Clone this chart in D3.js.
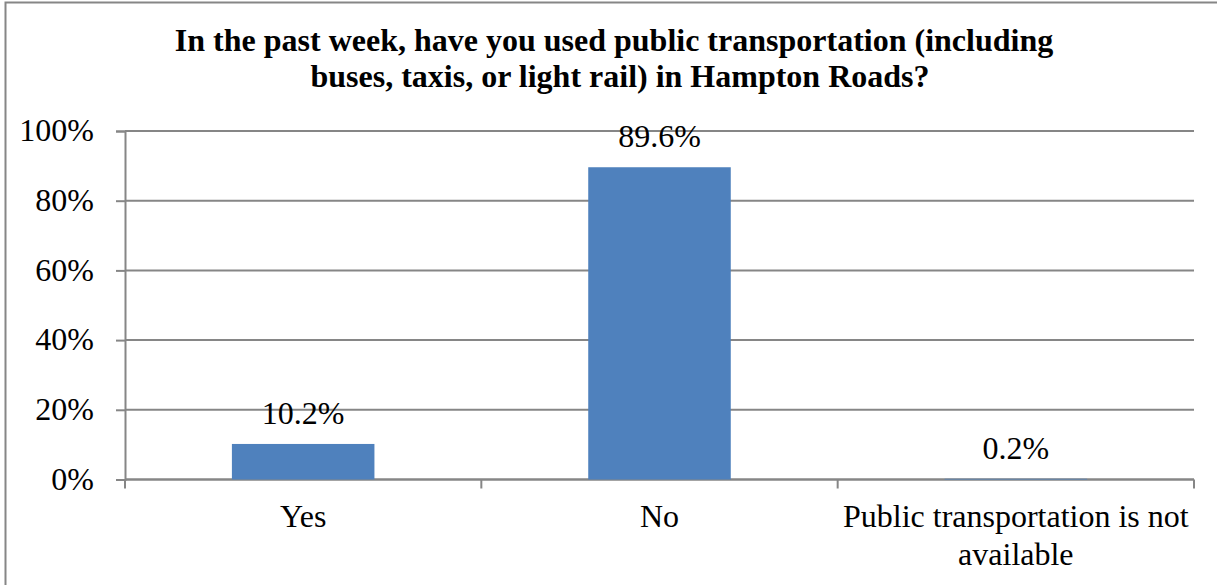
<!DOCTYPE html>
<html>
<head>
<meta charset="utf-8">
<script src="https://cdn.jsdelivr.net/npm/d3@7"></script>
<style>
  html, body { margin: 0; padding: 0; background: #fff; }
  svg { display: block; }
</style>
</head>
<body>
<svg id="chart" width="1217" height="585"></svg>
<script>
// Survey responses
const categories = ["Yes", "No", "Public transportation is not available"];
const values = [10.2, 89.6, 0.2];
const yTicks = [0, 20, 40, 60, 80, 100];
const titleLines = [
  "In the past week, have you used public transportation (including",
  "buses, taxis, or light rail) in Hampton Roads?"
];
const categoryLines = [["Yes"], ["No"], ["Public transportation is not", "available"]];

const FONT = "'Liberation Serif', 'Times New Roman', serif";
const FS = 32;
const GRID = "#868686";
const W = 1217, H = 585;
const margin = { left: 125, right: 23, top: 131, bottom: 105.5 };
const svg = d3.select("#chart").style("font-family", FONT);

// Chart frame (right and bottom edges run past the view)
svg.append("rect")
  .attr("x", 5.5).attr("y", 2.5)
  .attr("width", W + 20).attr("height", H + 20)
  .attr("fill", "#fff")
  .attr("stroke", GRID).attr("stroke-width", 2);

const x = d3.scaleBand()
  .domain(categories)
  .range([margin.left, W - margin.right])
  .paddingInner(0.6).paddingOuter(0.3);

const y = d3.scaleLinear()
  .domain([0, 100])
  .range([H - margin.bottom, margin.top]);

// Horizontal gridlines
svg.append("g")
  .selectAll("line")
  .data(yTicks)
  .join("line")
  .attr("x1", margin.left).attr("x2", W - margin.right)
  .attr("y1", d => y(d)).attr("y2", d => y(d))
  .attr("stroke", GRID).attr("stroke-width", 2);

// Y axis
const yAxis = svg.append("g")
  .attr("transform", `translate(${margin.left},0)`)
  .call(d3.axisLeft(y).tickValues(yTicks).tickFormat(d => d + "%").tickSize(9).tickPadding(22));
yAxis.attr("font-family", null).attr("font-size", null);
yAxis.select(".domain").attr("stroke", GRID).attr("stroke-width", 2);
yAxis.selectAll(".tick line").attr("stroke", GRID).attr("stroke-width", 2);
yAxis.selectAll(".tick text")
  .style("font-family", FONT)
  .attr("font-size", FS)
  .attr("fill", "#000")
  .attr("dy", "0.3em");

// X axis baseline and category separator ticks
const bounds = d3.range(categories.length + 1)
  .map(i => margin.left + i * (W - margin.right - margin.left) / categories.length);
svg.append("line")
  .attr("x1", margin.left).attr("x2", W - margin.right)
  .attr("y1", y(0)).attr("y2", y(0))
  .attr("stroke", GRID).attr("stroke-width", 2);
svg.append("g")
  .selectAll("line")
  .data(bounds)
  .join("line")
  .attr("x1", d => d).attr("x2", d => d)
  .attr("y1", y(0)).attr("y2", y(0) + 9)
  .attr("stroke", GRID).attr("stroke-width", 2);

// Bars
svg.append("g")
  .selectAll("rect")
  .data(values)
  .join("rect")
  .attr("x", (d, i) => x(categories[i]))
  .attr("width", x.bandwidth())
  .attr("y", d => y(d))
  .attr("height", d => y(0) - y(d))
  .attr("fill", "#4F81BD");

// Value labels
svg.append("g")
  .selectAll("text")
  .data(values)
  .join("text")
  .style("font-family", FONT)
  .attr("x", (d, i) => x(categories[i]) + x.bandwidth() / 2)
  .attr("y", d => y(d) - 20)
  .attr("text-anchor", "middle")
  .attr("font-size", FS)
  .text(d => d.toFixed(1) + "%");

// Category labels, wrapped to fit each band
const catG = svg.append("g");
categories.forEach((c, i) => {
  const cx = x(c) + x.bandwidth() / 2;
  categoryLines[i].forEach((ln, j) => {
    catG.append("text")
      .style("font-family", FONT)
      .attr("x", cx)
      .attr("y", 527 + j * 38)
      .attr("text-anchor", "middle")
      .attr("font-size", FS)
      .text(ln);
  });
});

// Title
const titleX = [614, 620];
svg.append("g")
  .selectAll("text")
  .data(titleLines)
  .join("text")
  .style("font-family", FONT)
  .attr("x", (d, i) => titleX[i])
  .attr("y", (d, i) => 51 + i * 36)
  .attr("text-anchor", "middle")
  .attr("font-size", FS)
  .attr("font-weight", "bold")
  .text(d => d);
</script>
</body>
</html>
